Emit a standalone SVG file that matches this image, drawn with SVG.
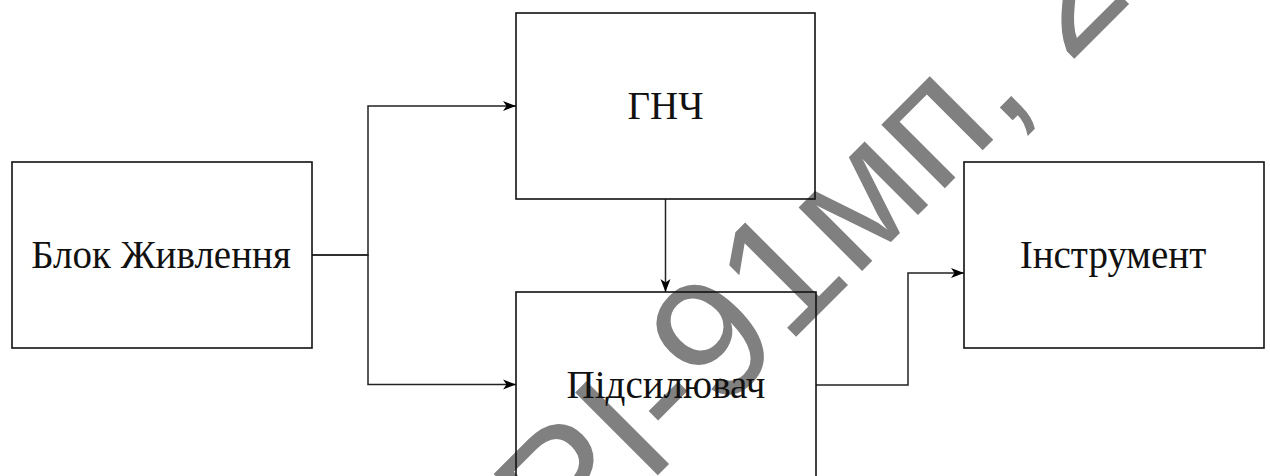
<svg xmlns="http://www.w3.org/2000/svg" width="1270" height="476" viewBox="0 0 1270 476">
  <style>
    .box { fill: none; stroke: #111; stroke-width: 1.6; }
    .lbl { font-family: "Liberation Serif", "Times New Roman", serif; font-size: 39px; fill: #111; text-anchor: middle; }
    .wire { fill: none; stroke: #222; stroke-width: 1.5; }
    .stamp { font-family: "Liberation Sans", Arial, sans-serif; font-size: 170px; fill: #808080; }
  </style>
  <defs>
    <marker id="arrow" markerUnits="userSpaceOnUse" markerWidth="14" markerHeight="12" refX="13" refY="6" orient="auto">
      <path d="M0,1 L13,6 L0,11 L3.5,6 Z" fill="#000"/>
    </marker>
  </defs>

  <rect width="1270" height="476" fill="#fff"/>

  <!-- diagonal stamp behind the diagram -->
  <text class="stamp" transform="translate(566.5,566.5) rotate(-45)">РІ-91мп, 2</text>

  <g id="connectors">
    <path class="wire" d="M312,255 H368 V106 H516" marker-end="url(#arrow)"/>
    <path class="wire" d="M312,255 H368 V384.5 H516" marker-end="url(#arrow)"/>
    <path class="wire" d="M665.5,199 V292" marker-end="url(#arrow)"/>
    <path class="wire" d="M816,385 H908 V273 H964" marker-end="url(#arrow)"/>
  </g>

  <g id="power">
    <rect class="box" x="12" y="162" width="300" height="186"/>
    <text class="lbl" x="161" y="268">Блок Живлення</text>
  </g>

  <g id="lfo">
    <rect class="box" x="516" y="13" width="299" height="186"/>
    <text class="lbl" x="665.5" y="119">ГНЧ</text>
  </g>

  <g id="amplifier">
    <rect class="box" x="516" y="292" width="300" height="186"/>
    <text class="lbl" x="666" y="398">Підсилювач</text>
  </g>

  <g id="instrument">
    <rect class="box" x="964" y="162" width="300" height="186"/>
    <text class="lbl" x="1113" y="268">Інструмент</text>
  </g>
</svg>
